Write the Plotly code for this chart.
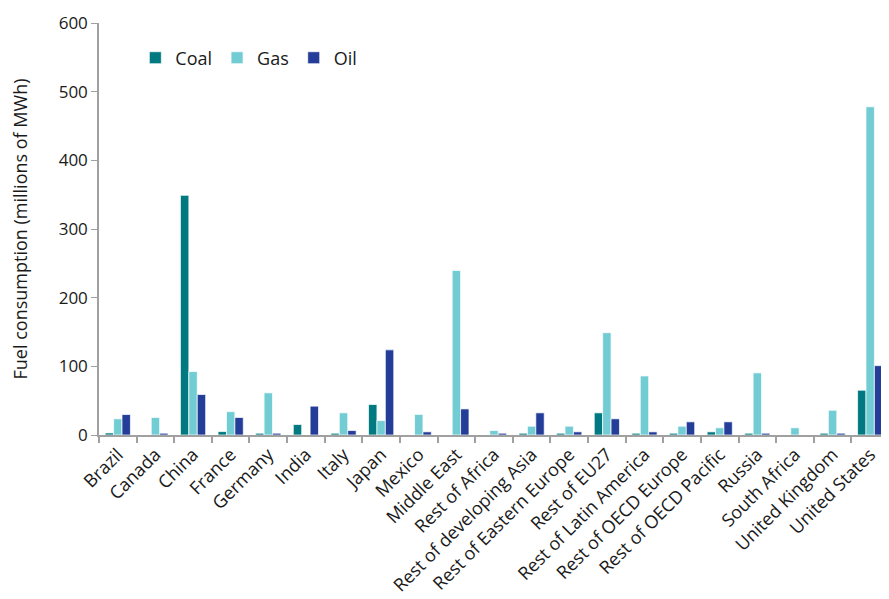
import plotly.graph_objects as go

regions = ["Brazil", "Canada", "China", "France", "Germany", "India", "Italy", "Japan",
           "Mexico", "Middle East", "Rest of Africa", "Rest of developing Asia",
           "Rest of Eastern Europe", "Rest of EU27", "Rest of Latin America",
           "Rest of OECD Europe", "Rest of OECD Pacific", "Russia", "South Africa",
           "United Kingdom", "United States"]

coal = [3, 0, 349, 5, 2.6, 15.3, 2.6, 44.4, 0, 0, 0, 2.6, 2.6, 32.3, 2.6, 2.6, 4.6, 2.6, 0, 2.6, 65.2]
gas = [23.6, 25.5, 92.4, 34, 61.4, 0, 32.3, 21, 30, 239.5, 6.5, 12.8, 12.8, 149, 86, 12.8, 10.5, 90.5, 10.5, 36, 478]
oil = [29.8, 2.6, 59, 25.5, 2.6, 42, 6.5, 124, 4.6, 38, 2.6, 32.3, 4.6, 23.6, 4.6, 19.2, 19.2, 2.6, 0, 2.6, 101]

y_ticks = [0, 100, 200, 300, 400, 500, 600]

colors = {"Coal": "#007A80", "Gas": "#72CCD3", "Oil": "#233D99"}

fig = go.Figure()
for name, vals in [("Coal", coal), ("Gas", gas), ("Oil", oil)]:
    fig.add_trace(go.Bar(
        x=regions, y=vals, name=name,
        marker=dict(color=colors[name], line=dict(color="rgba(255,255,255,0.7)", width=1)),
    ))

font_family = "Open Sans, Noto Sans, sans-serif"
txt = "#1a1a1a"

fig.update_layout(
    width=881, height=591,
    margin=dict(l=91, r=0, t=15, b=164, autoexpand=False),
    paper_bgcolor="white", plot_bgcolor="white",
    barmode="group", bargap=0.33, bargroupgap=0,
    font=dict(family=font_family, size=16, color=txt),
    showlegend=True,
    legend=dict(orientation="h", x=0.046, y=0.915, xanchor="left", yanchor="middle",
                font=dict(size=18, color=txt), bgcolor="rgba(0,0,0,0)",
                itemwidth=30, traceorder="normal"),
    xaxis=dict(
        range=[-0.5, 20.5], automargin=False,
        showline=True, linecolor="#A0A0A0", linewidth=2,
        ticks="outside", tickson="boundaries", ticklen=6, tickcolor="#A0A0A0", tickwidth=1.5,
        tickangle=-45, showgrid=False,
        tickfont=dict(size=18, color=txt),
    ),
    yaxis=dict(
        range=[0, 600], tickvals=y_ticks, automargin=False,
        showline=True, linecolor="#A0A0A0", linewidth=1.5,
        ticks="outside", ticklen=6, tickcolor="#A0A0A0",
        showgrid=False, zeroline=False,
        tickfont=dict(size=17, color=txt),
        title=dict(text="Fuel consumption (millions of MWh)", font=dict(size=18, color=txt), standoff=28),
    ),
)

fig.write_html("out.html")
